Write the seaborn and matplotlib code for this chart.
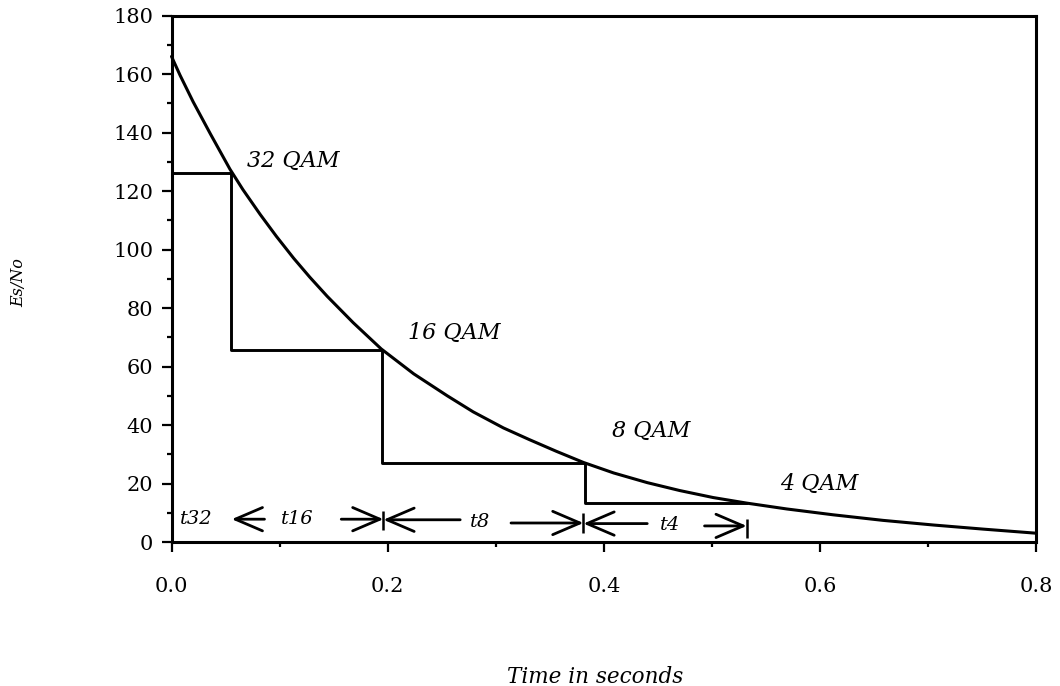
import matplotlib
matplotlib.use("Agg")
import matplotlib.pyplot as plt
from matplotlib.patches import ArrowStyle
import seaborn as sns
import pandas as pd

# Es/No decay over time
time_s = [0.0, 0.008, 0.020, 0.036, 0.054, 0.066, 0.082, 0.097, 0.113, 0.128,
          0.144, 0.168, 0.194, 0.224, 0.255, 0.279, 0.307, 0.331, 0.356, 0.381,
          0.409, 0.440, 0.470, 0.501, 0.532, 0.569, 0.612, 0.658, 0.705, 0.751, 0.800]
es_no = [166.0, 159.5, 150.5, 139.5, 127.5, 120.5, 112.0, 104.5, 97.0, 90.5,
         84.0, 75.0, 66.0, 57.5, 50.0, 44.5, 39.0, 35.0, 31.0, 27.2,
         23.6, 20.3, 17.6, 15.2, 13.3, 11.3, 9.3, 7.4, 5.8, 4.4, 3.0]

# modulation switching: time each mode starts and the Es/No threshold it holds
switch_time = [0.0, 0.055, 0.195, 0.382, 0.532]
threshold = [126.3, 65.6, 26.9, 13.4, 13.4]

modes = ["32 QAM", "16 QAM", "8 QAM", "4 QAM"]
mode_label_x = [0.070, 0.219, 0.407, 0.563]
mode_label_y = [130.3, 71.5, 37.8, 19.8]

# duration markers along the bottom
dur_names = ["t32", "t16", "t8", "t4"]
dur_text_x = [0.023, 0.116, 0.285, 0.461]
dur_text_y = [7.8, 7.8, 6.8, 5.7]
# (tail x, head x, y) for each arrow
arrow_tail = [0.086, 0.157, 0.267, 0.314, 0.440, 0.493]
arrow_head = [0.0557, 0.196, 0.196, 0.381, 0.381, 0.532]
arrow_y = [7.8, 7.8, 7.6, 6.5, 6.3, 5.5]
bar_x = [0.196, 0.381, 0.532]
bar_lo = [4.2, 3.0, 1.5]
bar_hi = [10.5, 10.0, 7.8]

x_ticks = [0.0, 0.2, 0.4, 0.6, 0.8]
x_tick_labels = ["0.0", "0.2", "0.4", "0.6", "0.8"]
y_ticks = [0, 20, 40, 60, 80, 100, 120, 140, 160, 180]

sns.set_theme(style="ticks")
plt.rcParams["font.family"] = ["DejaVu Serif"]
plt.rcParams["text.color"] = "black"
plt.rcParams["axes.labelcolor"] = "black"

fig = plt.figure(figsize=(10.6, 6.86), dpi=100)
ax = fig.add_axes([0.1618, 0.2099, 0.8160, 0.7675])

curve = pd.DataFrame({"t": time_s, "es": es_no})
sns.lineplot(data=curve, x="t", y="es", ax=ax, color="black", lw=2.2, clip_on=False)

steps = pd.DataFrame({"t": switch_time, "es": threshold})
sns.lineplot(data=steps, x="t", y="es", ax=ax, color="black", lw=2.1,
             drawstyle="steps-post")

for name, lx, ly in zip(modes, mode_label_x, mode_label_y):
    ax.text(lx, ly, name, fontsize=16, style="italic", ha="left", va="center",
            color="black")

for name, tx, ty in zip(dur_names, dur_text_x, dur_text_y):
    ax.text(tx, ty, name, fontsize=14, style="italic", ha="center", va="center",
            color="black")

arrow_style = ArrowStyle("->", head_length=1.4, head_width=0.6)
for tail, head, ay in zip(arrow_tail, arrow_head, arrow_y):
    ax.annotate("", xy=(head, ay), xytext=(tail, ay),
                arrowprops=dict(arrowstyle=arrow_style, color="black", lw=2.0,
                                shrinkA=0, shrinkB=0, mutation_scale=14))
ax.vlines(bar_x, bar_lo, bar_hi, color="black", lw=1.8)

ax.set_xlim(0, 0.8)
ax.set_ylim(0, 180)
ax.set_xticks(x_ticks)
ax.set_xticklabels(x_tick_labels)
ax.set_yticks(y_ticks)
ax.set_xticks([0.1, 0.3, 0.5, 0.7], minor=True)
ax.set_yticks([10, 30, 50, 70, 90, 110, 130, 150, 170], minor=True)
ax.tick_params(axis="both", which="major", direction="out", length=7, width=1.6,
               labelsize=15, color="black", labelcolor="black")
ax.tick_params(axis="both", which="minor", direction="out", length=3.5, width=1.6,
               color="black")
ax.tick_params(axis="x", which="major", pad=18)
ax.tick_params(axis="y", which="major", pad=6)
for side in ["left", "right", "top", "bottom"]:
    ax.spines[side].set_visible(True)
    ax.spines[side].set_linewidth(2.2)
    ax.spines[side].set_color("black")
ax.set_xlabel("")
ax.set_ylabel("")

fig.text(595 / 1060, 1 - 677 / 686, "Time in seconds", fontsize=15.5, style="italic",
         ha="center", va="center", color="black")
fig.text(19 / 1060, 1 - 283 / 686, "Es/No", fontsize=11.5, style="italic",
         rotation=90, ha="center", va="center", color="black")

fig.savefig("out.png", dpi=100, facecolor="white")
